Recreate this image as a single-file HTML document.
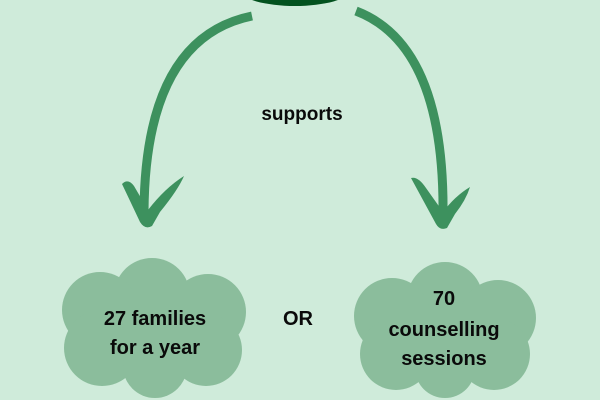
<!DOCTYPE html>
<html><head><meta charset="utf-8"><style>
html,body{margin:0;padding:0;background:#cfebda;}
svg{display:block}
text{font-family:"Liberation Sans",sans-serif;font-weight:bold;fill:#0a0a0a;text-anchor:middle}
</style></head><body>
<svg width="600" height="400" viewBox="0 0 600 400" xmlns="http://www.w3.org/2000/svg">
<rect width="600" height="400" fill="#cfebda"/>
<ellipse cx="295" cy="-10" rx="55" ry="16" fill="#03521f"/>
<g stroke="#3d915e" stroke-width="9" fill="none" stroke-linecap="butt">
<path d="M252,16 Q145,38 144,212"/>
<path d="M356,11 Q445,45 443,216"/>
</g>
<g fill="#3d915e">
<path d="M122,184 Q128,178 134,186 L148,210 Q165,188 184,176 Q178,190 160,212 L152,226 Q145,230 140,222 Z"/>
<path d="M411,178 Q418,176 426,188 L443,212 Q455,196 470,187 Q466,200 455,214 L447,228 Q440,231 436,224 Z"/>
</g>
<text x="302" y="120" font-size="19">supports</text>
<g fill="#8bbd9c">
<circle cx="152" cy="296" r="38"/>
<circle cx="100" cy="310" r="38"/>
<circle cx="208" cy="312" r="38"/>
<circle cx="102" cy="348" r="38"/>
<circle cx="206" cy="350" r="36"/>
<circle cx="155" cy="366" r="32"/>
<rect x="90" y="300" width="130" height="60"/>
<circle cx="445" cy="300" r="38"/>
<circle cx="392" cy="316" r="38"/>
<circle cx="498" cy="318" r="38"/>
<circle cx="396" cy="354" r="36"/>
<circle cx="494" cy="354" r="36"/>
<circle cx="445" cy="368" r="30"/>
<rect x="385" y="305" width="120" height="60"/>
</g>
<text x="155" y="325" font-size="20">27 families</text>
<text x="155" y="354" font-size="20">for a year</text>
<text x="298" y="325" font-size="20">OR</text>
<text x="444" y="305" font-size="20">70</text>
<text x="444" y="336" font-size="20">counselling</text>
<text x="444" y="365" font-size="20">sessions</text>
</svg>
</body></html>
